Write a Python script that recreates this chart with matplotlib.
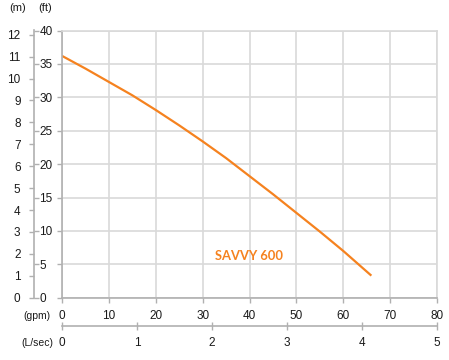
import matplotlib
matplotlib.use("Agg")
import matplotlib.pyplot as plt
import numpy as np

# data
flow_gpm = [0, 5, 10, 15, 20, 25, 30, 35, 40, 45, 50, 55, 60, 66]
head_ft = [36.2, 34.3, 32.3, 30.3, 28.1, 25.8, 23.4, 20.9, 18.2, 15.5, 12.7, 9.9, 7.0, 3.3]
series_label = "SAVVY 600"
gpm_ticks = [0, 10, 20, 30, 40, 50, 60, 70, 80]
ft_ticks = [0, 5, 10, 15, 20, 25, 30, 35, 40]
m_ticks = list(range(0, 13))
ls_ticks = [0, 1, 2, 3, 4, 5]

W, H = 449, 360
fig = plt.figure(figsize=(W / 100, H / 100), dpi=100)
plt.rcParams['font.family'] = ['Liberation Sans', 'DejaVu Sans']

orange = '#F5821F'
grid_c = '#d9d9d9'
spine_c = '#b0b0b0'
txt_c = '#1a1a1a'

left = 62 / W
right = 437 / W
bottom = 1 - 297.7 / H
top = 1 - 30.5 / H

ax = fig.add_axes([left, bottom, right - left, top - bottom])
ax.plot(flow_gpm, head_ft, color=orange, lw=1.6, solid_capstyle='butt',
        solid_joinstyle='round')
ax.set_xlim(0, 80)
ax.set_ylim(0, 40)
ax.set_xticks(gpm_ticks)
ax.set_yticks(ft_ticks)
ax.set_yticklabels([])
ax.grid(True, color=grid_c, lw=1.2)
ax.set_axisbelow(True)
for s in ['top', 'right']:
    ax.spines[s].set_color(grid_c)
    ax.spines[s].set_linewidth(1.2)
for s in ['left', 'bottom']:
    ax.spines[s].set_color(spine_c)
    ax.spines[s].set_linewidth(1.2)
ax.tick_params(axis='both', color=spine_c, length=3.5, width=1, labelsize=8.5,
               labelcolor=txt_c, pad=5)
ax.text(32.7, 6.3, series_label, color=orange, fontsize=9.3, fontweight='bold',
        family=['Lato', 'DejaVu Sans'], va='center', ha='left')

# m / ft axis
ax_x = 33.7 / W
axm = fig.add_axes([ax_x, bottom, 1e-4, top - bottom])
axm.set_ylim(0, 40 / 3.28084)
axm.set_yticks(m_ticks)
axm.set_xticks([])
for s in ['top', 'right', 'bottom']:
    axm.spines[s].set_visible(False)
axm.spines['left'].set_color(spine_c)
axm.spines['left'].set_linewidth(1.2)
axm.patch.set_visible(False)
axm.tick_params(axis='y', color=spine_c, length=3.5, width=1, labelsize=8.5,
                labelcolor=txt_c, pad=6)

axft = axm.twinx()
axft.set_ylim(0, 40)
axft.set_yticks(ft_ticks)
for s in ['top', 'left', 'bottom', 'right']:
    axft.spines[s].set_visible(False)
axft.tick_params(axis='y', color=spine_c, length=3.5, width=1, labelsize=8.5,
                 labelcolor=txt_c, pad=0.5)

# L/sec axis
ls_y = 1 - 326.3 / H
axl = fig.add_axes([left, ls_y, right - left, 1e-4])
axl.set_xlim(0, 5)
axl.set_xticks(ls_ticks)
axl.set_yticks([])
for s in ['top', 'left', 'right']:
    axl.spines[s].set_visible(False)
axl.spines['bottom'].set_color(spine_c)
axl.spines['bottom'].set_linewidth(1.2)
axl.patch.set_visible(False)
axl.tick_params(axis='x', direction='inout', color=spine_c, length=6, width=1,
                labelsize=8.5, labelcolor=txt_c, pad=5)

# unit labels
fig.text(18 / W, 1 - 8 / H, '(m)', fontsize=8, color=txt_c, ha='center', va='center')
fig.text(45 / W, 1 - 8 / H, '(ft)', fontsize=8, color=txt_c, ha='center', va='center')
fig.text(50 / W, 1 - 316 / H, '(gpm)', fontsize=7.5, color=txt_c, ha='right', va='center')
fig.text(53 / W, 1 - 343 / H, '(L/sec)', fontsize=7.5, color=txt_c, ha='right', va='center')

fig.savefig('out.png', dpi=100)
